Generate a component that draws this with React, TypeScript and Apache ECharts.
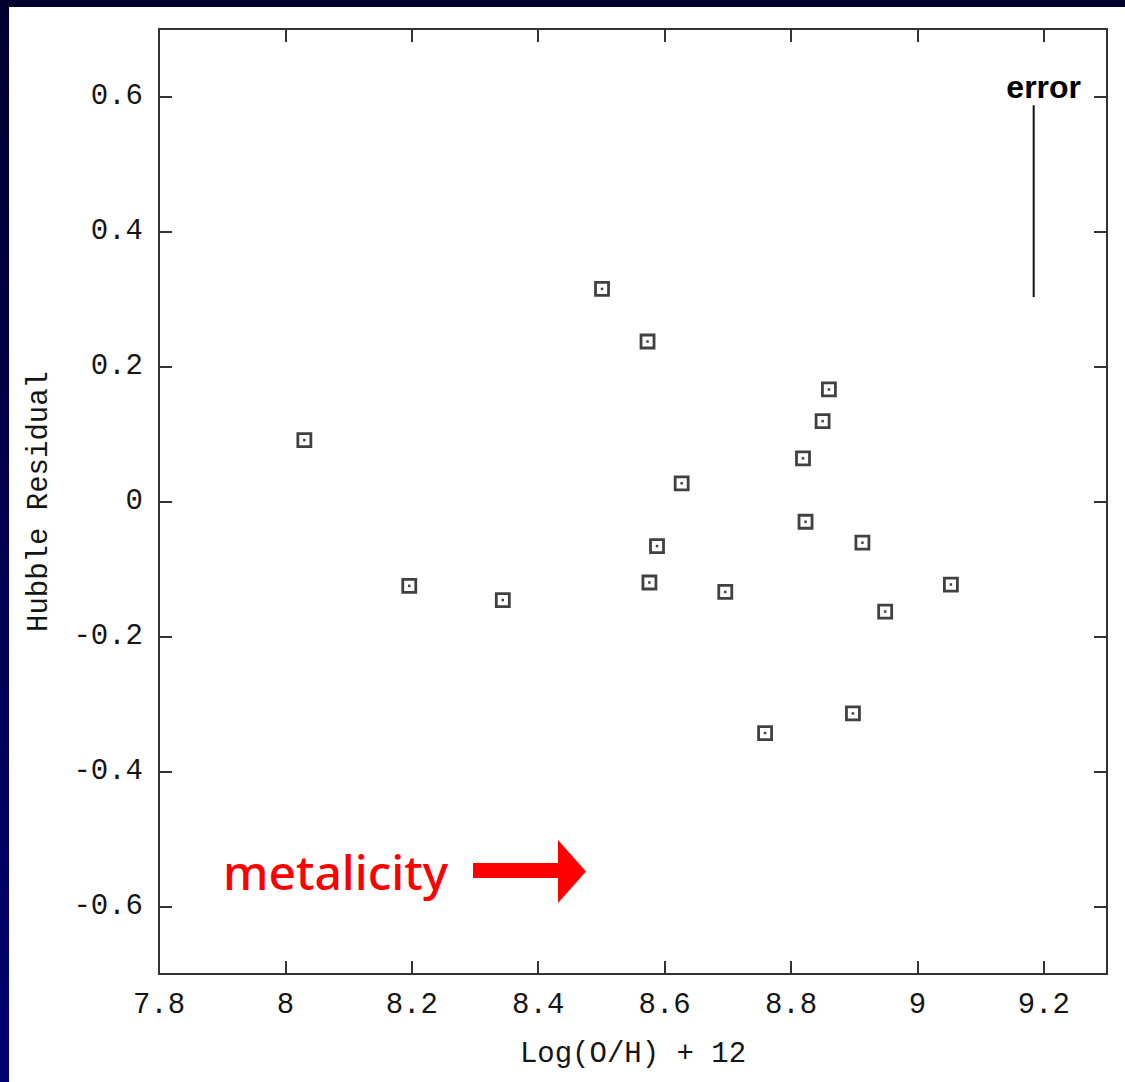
import React, { useEffect, useRef } from 'react';
import * as echarts from 'echarts';

// Oxygen abundance vs. Hubble residual for the host-galaxy sample
const logOH = [8.03, 8.196, 8.344, 8.501, 8.573, 8.576, 8.588, 8.627, 8.696, 8.759, 8.819, 8.823, 8.85, 8.86, 8.898, 8.913, 8.949, 9.053];
const hubbleResidual = [0.091, -0.125, -0.146, 0.315, 0.237, -0.12, -0.066, 0.027, -0.134, -0.343, 0.064, -0.03, 0.119, 0.166, -0.314, -0.061, -0.163, -0.123];

// Axis ticks
const xTicks = [7.8, 8, 8.2, 8.4, 8.6, 8.8, 9, 9.2];
const yTicks = [-0.6, -0.4, -0.2, 0, 0.2, 0.4, 0.6];

// Typical error bar
const errorBarX = 9.184;
const errorBarY = [0.587, 0.303];

const MONO = '"Liberation Mono", "DejaVu Sans Mono", monospace';
const INK = '#151515';

export default function App() {
  const ref = useRef<HTMLDivElement>(null);

  useEffect(() => {
    document.body.style.margin = '0';
    const chart = echarts.init(ref.current!, null, { renderer: 'svg' });
    const points = logOH.map((x, i) => [x, hubbleResidual[i]]);
    const fmt = (v: number) => String(+Number(v).toFixed(1));

    const axisLine = { show: true, onZero: false, lineStyle: { color: '#333', width: 2 } };
    const tick = (vals: number[]) => ({
      show: true,
      inside: true,
      length: 13,
      customValues: vals,
      lineStyle: { color: '#333', width: 2 },
    });

    chart.setOption({
      animation: false,
      backgroundColor: '#ffffff',
      grid: { left: 150, top: 22, width: 948, height: 945, containLabel: false },
      xAxis: [
        {
          type: 'value',
          min: 7.8,
          max: 9.3,
          position: 'bottom',
          axisLine,
          axisTick: tick(xTicks),
          splitLine: { show: false },
          axisLabel: {
            customValues: xTicks,
            formatter: fmt,
            margin: 17,
            fontFamily: MONO,
            fontSize: 29,
            color: INK,
          },
          name: 'Log(O/H) + 12',
          nameLocation: 'middle',
          nameGap: 66,
          nameTextStyle: { fontFamily: MONO, fontSize: 29, color: INK, verticalAlign: 'top' },
        },
        {
          type: 'value',
          min: 7.8,
          max: 9.3,
          position: 'top',
          axisLine,
          axisTick: tick(xTicks),
          splitLine: { show: false },
          axisLabel: { show: false },
        },
      ],
      yAxis: [
        {
          type: 'value',
          min: -0.7,
          max: 0.7,
          position: 'left',
          axisLine,
          axisTick: tick(yTicks),
          splitLine: { show: false },
          axisLabel: {
            customValues: yTicks,
            formatter: fmt,
            margin: 16,
            fontFamily: MONO,
            fontSize: 29,
            color: INK,
          },
          name: 'Hubble Residual',
          nameLocation: 'middle',
          nameGap: 105,
          nameTextStyle: { fontFamily: MONO, fontSize: 29, color: INK },
        },
        {
          type: 'value',
          min: -0.7,
          max: 0.7,
          position: 'right',
          axisLine,
          axisTick: tick(yTicks),
          splitLine: { show: false },
          axisLabel: { show: false },
        },
      ],
      series: [
        {
          type: 'scatter',
          data: points,
          symbol: 'rect',
          symbolSize: 13,
          itemStyle: { color: 'rgba(0,0,0,0)', borderColor: '#111', borderWidth: 2.8 },
          z: 3,
        },
        {
          type: 'scatter',
          data: points,
          symbol: 'rect',
          symbolSize: 2.5,
          itemStyle: { color: '#111' },
          z: 4,
        },
        {
          type: 'line',
          data: errorBarY.map((y) => [errorBarX, y]),
          symbol: 'none',
          lineStyle: { color: '#111', width: 2 },
          markPoint: {
            symbol: 'circle',
            symbolSize: 0,
            data: [{ coord: [errorBarX, errorBarY[0]] }],
            label: {
              show: true,
              formatter: 'error',
              position: 'top',
              distance: 2,
              offset: [10, 0],
              fontFamily: '"Liberation Sans", Arial, sans-serif',
              fontWeight: 'bold',
              fontSize: 32,
              color: '#000',
            },
          },
          z: 2,
        },
      ],
      graphic: [
        {
          type: 'text',
          left: 214,
          top: 840,
          style: {
            text: 'metalicity',
            fontFamily: '"Noto Sans", "DejaVu Sans", sans-serif',
            fontWeight: 500,
            fontSize: 48,
            fill: '#ff0000',
          },
        },
        {
          type: 'polygon',
          shape: {
            points: [
              [464, 856],
              [549, 856],
              [549, 833],
              [577, 864.5],
              [549, 896],
              [549, 871],
              [464, 871],
            ],
          },
          style: { fill: '#ff0000' },
        },
      ],
    });

    return () => chart.dispose();
  }, []);

  return (
    <div
      style={{
        width: 1125,
        height: 1082,
        position: 'relative',
        overflow: 'hidden',
        background: 'linear-gradient(180deg, #00002e 0%, #00004c 45%, #000070 100%)',
      }}
    >
      <div
        ref={ref}
        style={{ position: 'absolute', left: 9, top: 7, width: 1116, height: 1075, background: '#ffffff' }}
      />
    </div>
  );
}
